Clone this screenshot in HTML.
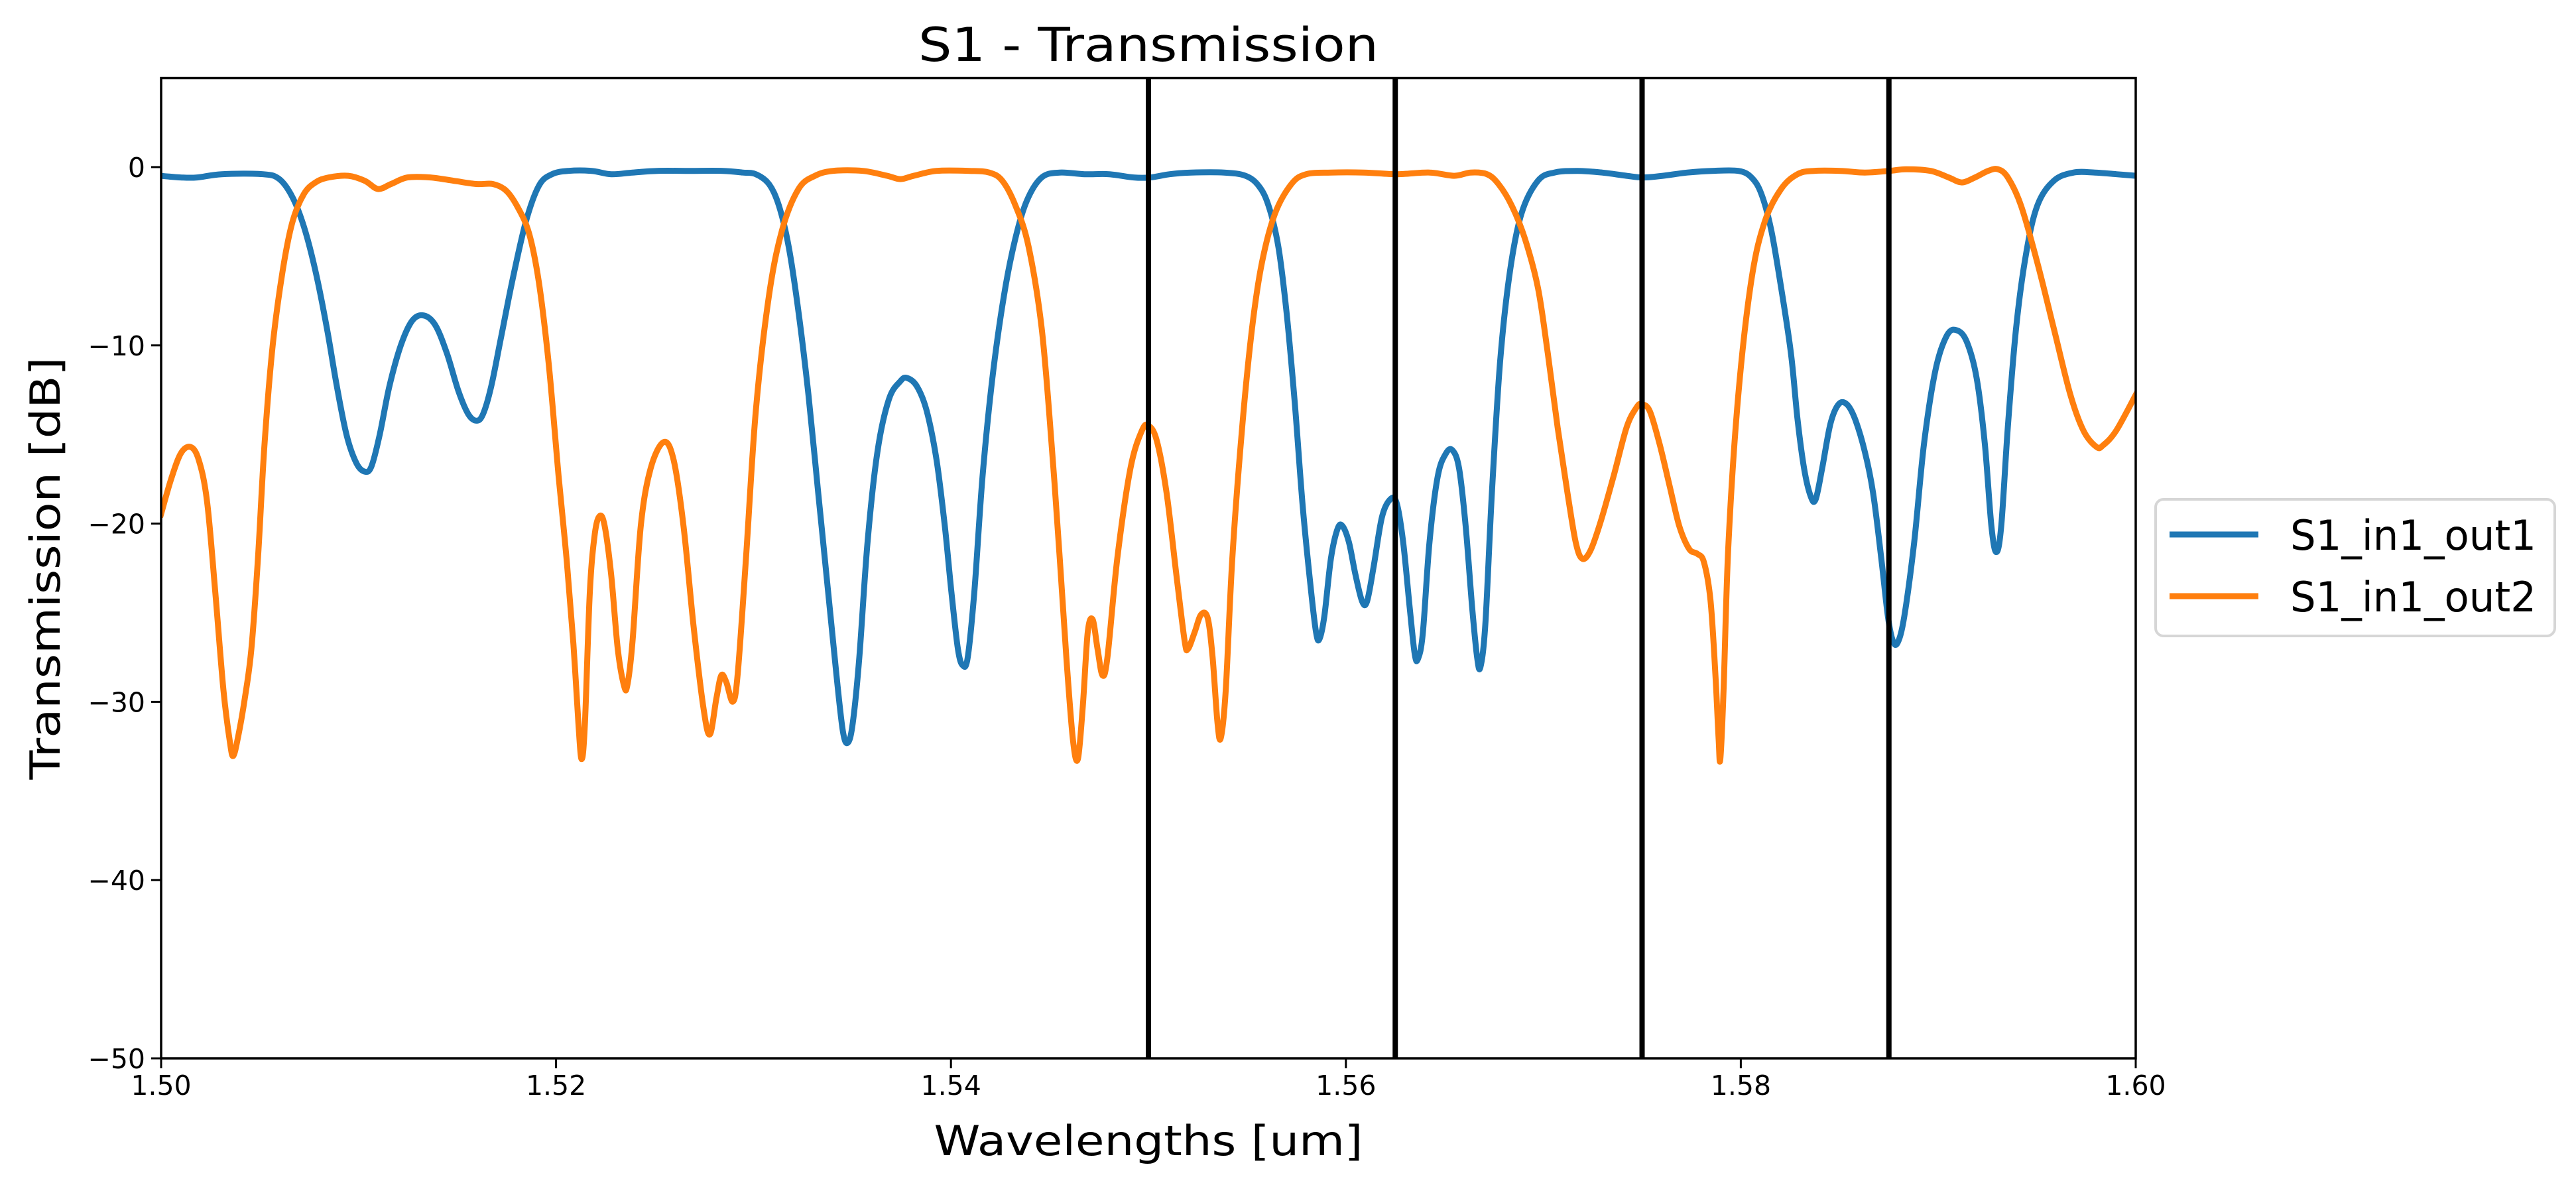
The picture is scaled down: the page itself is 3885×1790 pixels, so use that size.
<!DOCTYPE html>
<html><head><meta charset="utf-8"><style>
html,body{margin:0;padding:0;background:#fff;}
svg{display:block;}
text{font-family:"DejaVu Sans","Liberation Sans",sans-serif;fill:#000;}
</style></head><body>
<svg id="s" width="3885" height="1790" viewBox="0 0 3885 1790" xmlns="http://www.w3.org/2000/svg">
<defs><clipPath id="c"><rect x="243" y="117.6" width="2978" height="1478.4"/></clipPath></defs>
<rect width="3885" height="1790" fill="#fff"/>
<g id="plot" clip-path="url(#c)"></g>
<g id="vl" stroke="#000" stroke-width="8"></g>
<rect x="243" y="117.6" width="2978" height="1478.4" fill="none" stroke="#000" stroke-width="3.5"/>
<g id="ticks" stroke="#000" stroke-width="3"></g>
<g id="labels" font-size="41"></g>
<text x="1732" y="92" font-size="70" text-anchor="middle" textLength="694" lengthAdjust="spacingAndGlyphs">S1 - Transmission</text>
<text x="1732" y="1742" font-size="62" text-anchor="middle" textLength="647" lengthAdjust="spacingAndGlyphs">Wavelengths [um]</text>
<text transform="translate(90,857) rotate(-90)" font-size="62" text-anchor="middle" textLength="637" lengthAdjust="spacingAndGlyphs">Transmission [dB]</text>
<rect x="3251" y="753" width="602" height="206" rx="12" fill="#fff" stroke="#d6d6d6" stroke-width="4"/>
<line x1="3272" y1="806" x2="3406" y2="806" stroke="#1f77b4" stroke-width="9"/>
<line x1="3272" y1="899" x2="3406" y2="899" stroke="#ff7f0e" stroke-width="9"/>
<text x="3454" y="829" font-size="62" textLength="371" lengthAdjust="spacingAndGlyphs">S1_in1_out1</text>
<text x="3454" y="922" font-size="62" textLength="371" lengthAdjust="spacingAndGlyphs">S1_in1_out2</text>
</svg>
<script>
var NS="http://www.w3.org/2000/svg",K=2.478;
function el(p,t,a,txt){var e=document.createElementNS(NS,t);for(var k in a)e.setAttribute(k,a[k]);if(txt!==undefined)e.textContent=txt;document.getElementById(p).appendChild(e);return e;}
var L=243,R=3221,T=117.6,B=1596;
function X(w){return L+(w-1.5)/0.1*(R-L);}
function Y(v){return T+(5-v)*(B-T)/55;}
[1.5,1.52,1.54,1.56,1.58,1.6].forEach(function(w){var x=X(w);el("ticks","line",{x1:x,y1:B,x2:x,y2:B+15});el("labels","text",{x:x,y:1651,"text-anchor":"middle"},w.toFixed(2));});
[0,-10,-20,-30,-40,-50].forEach(function(v){var y=Y(v);el("ticks","line",{x1:L-15,y1:y,x2:L,y2:y});el("labels","text",{x:L-24,y:y+15,"text-anchor":"end"},v==0?"0":"\u2212"+(-v));});
[1.55,1.5625,1.575,1.5875].forEach(function(w){var x=X(w);el("vl","line",{x1:x,y1:T,x2:x,y2:B});});
function path(pts){pts=pts.map(function(p){return[p[0]*K,p[1]*K];});var d="M"+pts[0][0].toFixed(1)+","+pts[0][1].toFixed(1);
for(var i=0;i<pts.length-1;i++){var p0=pts[i-1]||pts[i],p1=pts[i],p2=pts[i+1],p3=pts[i+2]||p2;
var c1=[p1[0]+(p2[0]-p0[0])/6,p1[1]+(p2[1]-p0[1])/6],c2=[p2[0]-(p3[0]-p1[0])/6,p2[1]-(p3[1]-p1[1])/6];
d+="C"+c1[0].toFixed(1)+","+c1[1].toFixed(1)+" "+c2[0].toFixed(1)+","+c2[1].toFixed(1)+" "+p2[0].toFixed(1)+","+p2[1].toFixed(1);}return d;}
var blue=[[98,107],[110,108],[120,108],[135,106],[160,106],[170,109],[178,120],[185,138],[192,165],[199,200],[205,235],[211,265],[217,282],[222,287],[226,284],[231,265],[237,235],[244,210],[251,195],[258,192],[265,198],[272,215],[279,238],[285,252],[290,256],[294,252],[299,235],[305,205],[312,170],[320,135],[328,113],[336,106],[346,104],[360,104],[372,106],[385,105],[400,104],[420,104],[440,104],[452,105],[460,106],[468,112],[474,125],[480,150],[486,190],[492,240],[498,300],[504,360],[509,410],[513,445],[516,452],[519,440],[523,400],[528,330],[534,275],[541,243],[548,232],[552,230],[558,235],[564,250],[570,280],[575,320],[579,360],[583,395],[586,405],[589,400],[593,360],[598,290],[604,230],[611,180],[618,145],[625,122],[634,108],[645,105],[660,106],[675,106],[690,108],[700,108],[712,106],[725,105],[745,105],[758,107],[766,113],[772,125],[778,150],[783,190],[788,245],[793,310],[798,360],[801,385],[803,389],[806,375],[810,340],[814,322],[817,320],[821,330],[825,350],[829,366],[832,366],[836,345],[841,315],[846,304],[850,306],[854,330],[858,370],[861,398],[863,401],[866,385],[870,330],[875,290],[880,276],[884,274],[888,285],[892,320],[896,370],[899,400],[901,406],[904,380],[908,300],[913,220],[919,165],[926,130],[936,110],[946,105],[960,104],[975,105],[990,107],[1000,108],[1012,107],[1027,105],[1042,104],[1058,104],[1066,108],[1072,118],[1078,140],[1084,175],[1090,215],[1094,255],[1098,285],[1102,302],[1105,304],[1109,285],[1114,258],[1119,246],[1124,246],[1129,255],[1135,275],[1140,300],[1145,340],[1149,375],[1152,390],[1155,391],[1159,375],[1165,330],[1171,270],[1178,225],[1185,204],[1191,201],[1197,208],[1203,230],[1208,270],[1212,320],[1215,336],[1218,320],[1222,260],[1227,200],[1233,155],[1240,125],[1250,110],[1262,105],[1275,105],[1288,106],[1300,107]];
var orange=[[98,313],[104,292],[110,276],[116,272],[121,280],[126,305],[131,360],[136,420],[140,452],[142,460],[145,448],[149,425],[153,395],[157,340],[161,270],[166,210],[172,165],[178,135],[185,118],[192,111],[200,108],[212,107],[222,110],[230,115],[238,112],[248,108],[262,108],[276,110],[290,112],[300,112],[308,116],[315,126],[322,142],[328,172],[334,222],[340,290],[345,342],[349,392],[352,440],[354,462],[356,440],[359,360],[362,325],[365,314],[368,320],[372,350],[376,395],[380,418],[382,416],[385,390],[390,320],[396,285],[404,269],[410,280],[416,320],[422,380],[428,430],[432,447],[436,425],[439,411],[442,415],[446,427],[449,410],[454,340],[460,250],[468,180],[476,140],[486,115],[496,107],[507,104],[525,104],[540,107],[548,109],[556,107],[570,104],[590,104],[602,105],[610,110],[618,125],[626,150],[634,200],[640,270],[645,340],[649,400],[653,450],[656,462],[659,430],[662,385],[665,377],[668,395],[671,411],[674,400],[680,340],[688,285],[695,262],[699,259],[704,268],[710,300],[716,350],[721,390],[723,395],[727,385],[731,374],[735,376],[738,400],[741,440],[743,449],[746,420],[750,340],[756,260],[762,200],[768,160],[776,130],[786,112],[795,106],[810,105],[830,105],[850,106],[870,105],[885,107],[895,105],[905,106],[912,112],[920,125],[928,145],[936,175],[942,215],[948,260],[954,300],[959,330],[963,340],[968,335],[974,318],[982,290],[990,260],[996,248],[999,246],[1004,250],[1010,270],[1016,295],[1022,320],[1028,334],[1033,337],[1037,342],[1041,365],[1044,410],[1046,450],[1047,462],[1049,420],[1052,330],[1058,240],[1066,170],[1074,135],[1084,115],[1094,106],[1104,104],[1120,104],[1135,105],[1150,104],[1160,103],[1175,104],[1186,108],[1194,111],[1202,108],[1210,104],[1216,103],[1222,108],[1230,125],[1240,160],[1250,200],[1260,240],[1268,262],[1276,272],[1280,271],[1288,262],[1300,240]];
el("plot","path",{d:path(blue),fill:"none",stroke:"#1f77b4","stroke-width":9,"stroke-linejoin":"round","stroke-linecap":"square"});
el("plot","path",{d:path(orange),fill:"none",stroke:"#ff7f0e","stroke-width":9,"stroke-linejoin":"round","stroke-linecap":"square"});
</script>
</body></html>
